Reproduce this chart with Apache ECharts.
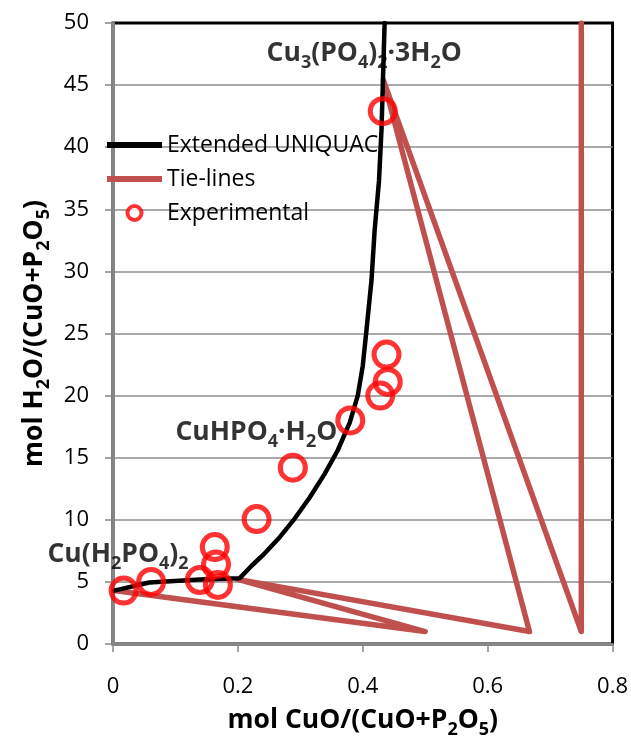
<!DOCTYPE html>
<html><head><meta charset="utf-8">
<script src="https://cdn.jsdelivr.net/npm/echarts@6/dist/echarts.min.js"></script>
<style>html,body{margin:0;padding:0;background:#fff}#c{width:631px;height:746px}</style>
</head><body><div id="c"></div>
<script>
// Extended UNIQUAC model curve
const curveX = [0.002, 0.058, 0.139, 0.203, 0.222, 0.243, 0.267, 0.291, 0.315, 0.339, 0.360, 0.379, 0.392, 0.400, 0.406, 0.414, 0.419, 0.426, 0.430, 0.435];
const curveY = [4.3, 4.95, 5.2, 5.3, 6.3, 7.3, 8.6, 10.1, 11.8, 13.7, 15.6, 17.8, 20.0, 22.4, 25.3, 29.3, 33.3, 37.3, 41.4, 50];
// Tie-lines (one polyline)
const tieX = [0.75, 0.75, 0.433, 0.667, 0.200, 0.500, 0.002];
const tieY = [50, 1.0, 45.4, 1.0, 5.2, 1.0, 4.3];
// Experimental points
const expX = [0.432, 0.438, 0.440, 0.428, 0.380, 0.288, 0.230, 0.163, 0.165, 0.139, 0.168, 0.061, 0.017];
const expY = [42.9, 23.3, 21.1, 20.0, 18.0, 14.2, 10.06, 7.8, 6.4, 5.15, 4.75, 5.0, 4.3];
// Annotations (text and anchor in data units)
const annText = ['Cu{s|3}(PO{s|4}){s|2}·3H{s|2}O', 'CuHPO{s|4}·H{s|2}O', 'Cu(H{s|2}PO{s|4}){s|2}'];
const annX = [0.246, 0.100, -0.105];
const annY = [47.55, 17.06, 7.24];
const seriesNames = ['Extended UNIQUAC', 'Tie-lines', 'Experimental'];

const FONT = 'Open Sans';
const zip = (a, b) => a.map((v, i) => [v, b[i]]);
const sub = {fontFamily: FONT, fontWeight: 'bold', fontSize: 18, color: '#000', padding: [19, 0, 0, 0]};
const main = {fontFamily: FONT, fontWeight: 'bold', fontSize: 26.5, color: '#000'};
const bar = 'path://M0,0h55v6h-55z';

const chart = echarts.init(document.getElementById('c'), null, {renderer: 'canvas'});
chart.setOption({
  animation: false,
  backgroundColor: '#fff',
  grid: {left: 113, right: 18, top: 23, bottom: 102, show: true, borderColor: '#000', borderWidth: 3, backgroundColor: 'transparent'},
  legend: {
    data: [{name: seriesNames[0], icon: bar, itemStyle: {color: '#000', borderWidth: 0}},
           {name: seriesNames[1], icon: bar, itemStyle: {color: '#C0504D', borderWidth: 0}},
           {name: seriesNames[2], icon: 'circle', itemStyle: {color: '#fff', borderColor: '#FF0000', borderWidth: 4}}],
    orient: 'vertical', left: 107, top: 133, itemWidth: 55, itemHeight: 14, itemGap: 10, padding: 0,
    symbolKeepAspect: true,
    itemStyle: {borderWidth: 4},
    textStyle: {fontFamily: FONT, fontSize: 23, color: '#000', lineHeight: 24}, selectedMode: false
  },
  xAxis: {
    type: 'value', min: 0, max: 0.8, interval: 0.2,
    axisLine: {show: true, lineStyle: {color: '#868686', width: 3}},
    axisTick: {show: true, length: 8, lineStyle: {color: '#868686', width: 1.5}},
    splitLine: {show: false},
    axisLabel: {fontFamily: FONT, fontSize: 22, color: '#000', margin: 32},
    name: 'mol CuO/(CuO+P{s|2}O{s|5})', nameLocation: 'middle', nameGap: 58,
    nameTextStyle: Object.assign({}, main, {rich: {s: sub}})
  },
  yAxis: {
    type: 'value', min: 0, max: 50, interval: 5,
    axisLine: {show: true, lineStyle: {color: '#868686', width: 3}},
    axisTick: {show: true, length: 8, lineStyle: {color: '#868686', width: 1.5}},
    splitLine: {show: true, showMinLine: false, showMaxLine: false, lineStyle: {color: '#8c8c8c', width: 1.5}},
    axisLabel: {fontFamily: FONT, fontSize: 22, color: '#000', margin: 24},
    name: 'mol H{s|2}O/(CuO+P{s|2}O{s|5})', nameLocation: 'middle', nameGap: 60,
    nameTextStyle: Object.assign({}, main, {rich: {s: sub}})
  },
  series: [
    {name: seriesNames[1], type: 'line', data: zip(tieX, tieY), symbol: 'none', z: 2,
     lineStyle: {color: '#C0504D', width: 5.5, cap: 'round', join: 'round'}, itemStyle: {color: '#C0504D'}},
    {name: seriesNames[0], type: 'line', data: zip(curveX, curveY), symbol: 'none', z: 3,
     lineStyle: {color: '#000', width: 4.5, cap: 'round', join: 'round'}, itemStyle: {color: '#000'}},
    {name: seriesNames[2], type: 'scatter', data: zip(expX, expY), symbol: 'circle', symbolSize: 25, z: 4,
     itemStyle: {color: 'rgba(255,255,255,0)', borderColor: '#FF0000', borderWidth: 5}},
    {name: 'labels', type: 'scatter', data: zip(annX, annY), symbolSize: 0, clip: false, silent: true, z: 5,
     label: {show: true, position: 'right', distance: 0,
       formatter: p => annText[p.dataIndex],
       fontFamily: FONT, fontWeight: 'bold', fontSize: 26.5, color: '#000',
       rich: {s: sub}}}
  ]
});
</script></body></html>
